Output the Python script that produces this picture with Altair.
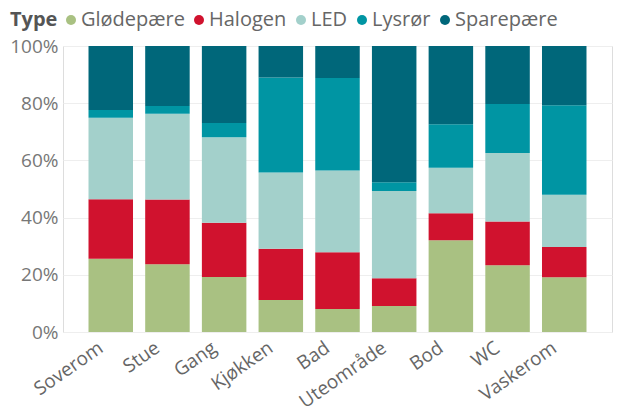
import altair as alt
import pandas as pd

rooms = ["Soverom", "Stue", "Gang", "Kjøkken", "Bad", "Uteområde", "Bod", "WC", "Vaskerom"]
types = ["Glødepære", "Halogen", "LED", "Lysrør", "Sparepære"]
glodepaere = [25.6, 23.7, 19.2, 11.2, 8.0, 9.1, 32.1, 23.3, 19.1]
halogen = [20.8, 22.6, 19.0, 17.9, 19.9, 9.7, 9.4, 15.3, 10.6]
led = [28.5, 30.0, 29.9, 26.7, 28.6, 30.5, 15.9, 24.0, 18.3]
lysror = [2.7, 2.7, 5.0, 33.2, 32.3, 3.1, 15.2, 17.1, 31.3]
sparepaere = [22.4, 21.0, 26.9, 11.0, 11.2, 47.6, 27.4, 20.3, 20.7]
colors = ["#A9C182", "#D0122E", "#A3D0CB", "#0095A3", "#00677A"]

series = [glodepaere, halogen, led, lysror, sparepaere]
rows = []
for ti, (t, vals) in enumerate(zip(types, series)):
    for r, v in zip(rooms, vals):
        rows.append({"Room": r, "Type": t, "Value": v, "Order": ti})
df = pd.DataFrame(rows)

chart = alt.Chart(df).mark_bar().encode(
    x=alt.X("Room:N", sort=rooms,
            scale=alt.Scale(paddingInner=0.215, paddingOuter=0.45),
            axis=alt.Axis(title=None, labelAngle=-35, labelAlign="right", labelBaseline="top",
                          labelFontSize=19, labelColor="#666666", labelOffset=-15,
                          ticks=False, domain=False, labelPadding=6, grid=False)),
    y=alt.Y("Value:Q", stack="normalize",
            scale=alt.Scale(domain=[0, 1]),
            axis=alt.Axis(title=None, format=".0%", values=[0, 0.2, 0.4, 0.6, 0.8, 1.0],
                          domain=False, ticks=False, gridColor="#EEEEEE",
                          labelFontSize=19, labelColor="#777777", labelPadding=5)),
    color=alt.Color("Type:N", scale=alt.Scale(domain=types, range=colors),
                    legend=alt.Legend(orient="none", legendX=-53, legendY=-36,
                                      direction="horizontal", titleOrient="left",
                                      title="Type", titleFontSize=20, titleColor="#555555",
                                      titleFontWeight="bold", labelFontSize=20,
                                      labelColor="#666666", symbolType="circle",
                                      symbolSize=100, symbolOpacity=1, columnPadding=4,
                                      labelOffset=0, titlePadding=3)),
    order=alt.Order("Order:Q", sort="ascending"),
).properties(
    width=549, height=286, padding={"left": 1, "top": 2, "right": 2, "bottom": 2}
).configure_view(stroke=None).configure(font="Open Sans")

chart.save("out.html", embed_options={"renderer": "svg", "actions": False})
